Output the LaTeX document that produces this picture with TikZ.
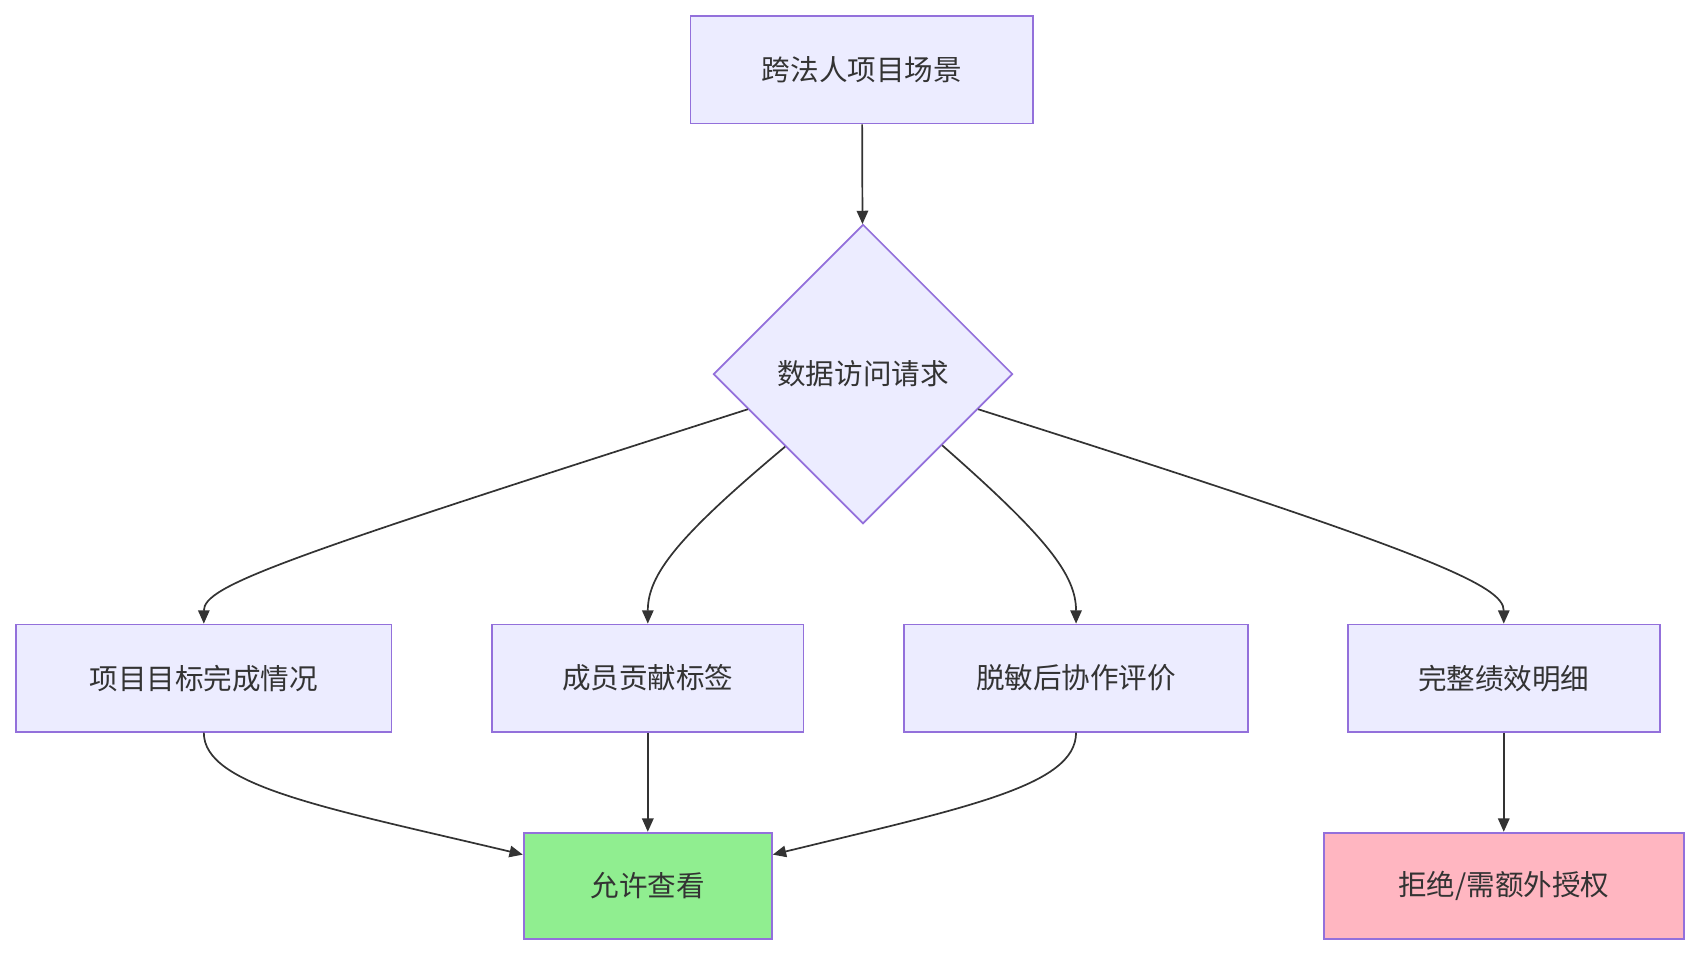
\documentclass[tikz,border=0pt]{standalone}
\usepackage{fontspec}
\setmainfont{Noto Sans CJK SC}
\usetikzlibrary{shapes.geometric,arrows.meta}
\definecolor{nfill}{HTML}{ECECFF}
\definecolor{nline}{HTML}{9370DB}
\definecolor{eline}{HTML}{333333}
\definecolor{txt}{HTML}{333333}
\begin{document}
\begin{tikzpicture}[x=0.02cm,y=-0.02cm,
  box/.style={draw=nline,fill=nfill,line width=0.9pt,minimum height=99*0.02cm,inner sep=0,text=txt,font=\fontsize{15}{18}\selectfont},
  dia/.style={box,shape=diamond,minimum width=276*0.02cm,minimum height=276*0.02cm},
  e/.style={draw=eline,line width=0.9pt,-{Triangle[length=7pt,width=6pt]}}]
\useasboundingbox (0,0) rectangle (1568,882);
\node[box,minimum width=316*0.02cm] (top) at (795,64.5) {跨法人项目场景};
\node[dia] (d) at (796,345) {数据访问请求};
\node[box,minimum width=346*0.02cm] (A) at (188,625.5) {项目目标完成情况};
\node[box,minimum width=287*0.02cm] (B) at (597.5,625.5) {成员贡献标签};
\node[box,minimum width=317*0.02cm] (C) at (992.5,625.5) {脱敏后协作评价};
\node[box,minimum width=288*0.02cm] (D) at (1387,625.5) {完整绩效明细};
\node[box,minimum width=229*0.02cm,minimum height=98*0.02cm,fill={rgb,255:red,144;green,238;blue,144}] (E) at (597.5,817) {允许查看};
\node[box,minimum width=332*0.02cm,minimum height=98*0.02cm,fill={rgb,255:red,255;green,182;blue,193}] (F) at (1387,817) {拒绝/需额外授权};
\draw[e] (top) -- (d);
\draw[e] (d.-163) .. controls (260,515) and (188,540) .. (A.north);
\draw[e] (d.-137.5) .. controls (625,495) and (597.5,530) .. (B.north);
\draw[e] (d.-42.5) .. controls (965,495) and (992.5,530) .. (C.north);
\draw[e] (d.-17) .. controls (1320,510) and (1387,540) .. (D.north);
\draw[e] (A.south) .. controls (188,725) and (300,745) .. (E.166);
\draw[e] (B) -- (E);
\draw[e] (C.south) .. controls (992.5,725) and (890,745) .. (E.14);
\draw[e] (D) -- (F);
\end{tikzpicture}
\end{document}
